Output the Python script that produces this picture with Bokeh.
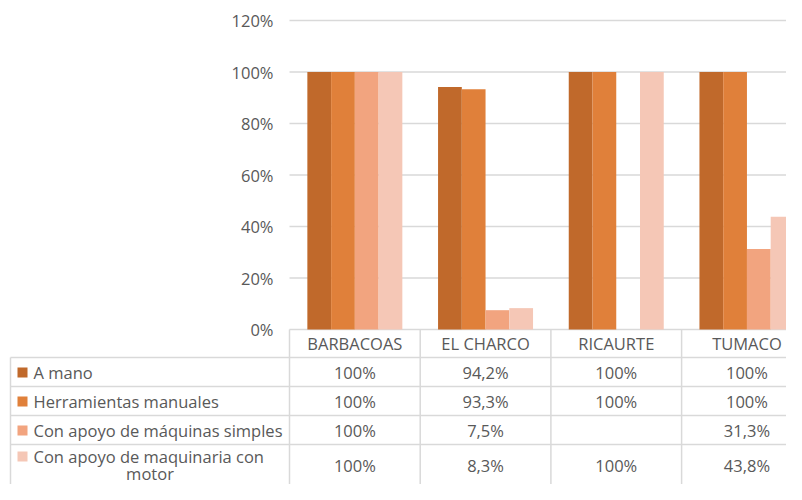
from bokeh.plotting import figure
from bokeh.models import Range1d, ColumnDataSource
from bokeh.core.properties import value
from bokeh.embed import file_html
from bokeh.resources import INLINE
import math

# ---- data ----
categories = ["BARBACOAS", "EL CHARCO", "RICAURTE", "TUMACO"]
series_names = ["A mano", "Herramientas manuales",
                "Con apoyo de máquinas simples", "Con apoyo de maquinaria con motor"]
a_mano = [1.0, 0.942, 1.0, 1.0]
herramientas = [1.0, 0.933, 1.0, 1.0]
maquinas_simples = [1.0, 0.075, None, 0.313]
maquinaria_motor = [1.0, 0.083, 1.0, 0.438]
y_ticks = [0, 0.2, 0.4, 0.6, 0.8, 1.0, 1.2]

series_values = [a_mano, herramientas, maquinas_simples, maquinaria_motor]
colors = ["#C0692B", "#E0803A", "#F2A47F", "#F5C7B6"]

FONT = value("Open Sans")
FS = value("16.5px")
TXT = "#595959"
GRID = "#d9d9d9"

# layout (pixel coordinates of the figure)
W, H = 786, 484
GROUP_PX = 130.7
PLOT_LEFT = 289
ZERO_Y = 329
PCT_PX = 257.5  # pixels per 100%


def fmt(v):
    if v is None:
        return ""
    if abs(v - 1.0) < 1e-9:
        return "100%"
    return ("%.1f%%" % (v * 100)).replace(".", ",")


p = figure(width=W, height=H,
           x_range=Range1d(0, W), y_range=Range1d(H, 0),
           output_backend="svg", toolbar_location=None,
           min_border_left=0, min_border_right=0, min_border_top=0, min_border_bottom=0)
p.axis.visible = False
p.grid.visible = False
p.outline_line_color = None
p.extra_x_ranges = {"grp": Range1d(-PLOT_LEFT / GROUP_PX, (W - PLOT_LEFT) / GROUP_PX)}
p.extra_y_ranges = {"pct": Range1d((ZERO_Y - H) / PCT_PX, ZERO_Y / PCT_PX)}

# gridlines + y tick labels (on percentage scale)
n_cat = len(categories)
right_edge = PLOT_LEFT + n_cat * GROUP_PX
p.segment(x0=[PLOT_LEFT] * len(y_ticks), x1=[right_edge] * len(y_ticks),
          y0=y_ticks, y1=y_ticks, y_range_name="pct", line_color=GRID, line_width=1.5)
p.text(x=[273] * len(y_ticks), y=y_ticks, y_range_name="pct",
       text=["%d%%" % round(t * 100) for t in y_ticks],
       text_align="right", text_baseline="middle",
       text_font=FONT, text_font_size=FS, text_color=TXT)

# bars
n = len(series_values)
bar_w = 0.1817
for j, (vals, col) in enumerate(zip(series_values, colors)):
    off = (j - (n - 1) / 2) * bar_w
    xs = [i + 0.5 + off for i in range(n_cat)]
    tops = [math.nan if v is None else v for v in vals]
    src = ColumnDataSource(dict(x=xs, top=tops))
    p.vbar(x="x", top="top", bottom=0, width=bar_w, source=src,
           x_range_name="grp", y_range_name="pct", fill_color=col, line_color=None)

# ---- data table ----
col_x = [PLOT_LEFT + i * GROUP_PX for i in range(n_cat + 1)]
row_lines = [357, 386, 415, 444]
p.segment(x0=col_x, x1=col_x, y0=[ZERO_Y] * len(col_x), y1=[H + 10] * len(col_x),
          line_color=GRID, line_width=1.5)
p.segment(x0=[10], x1=[10], y0=[row_lines[0]], y1=[H + 10], line_color=GRID, line_width=1.5)
p.segment(x0=[10] * len(row_lines), x1=[col_x[-1]] * len(row_lines),
          y0=row_lines, y1=row_lines, line_color=GRID, line_width=1.5)

centers = [PLOT_LEFT + (i + 0.5) * GROUP_PX for i in range(n_cat)]
p.text(x=centers, y=[343] * n_cat, text=categories,
       text_align="center", text_baseline="middle",
       text_font=FONT, text_font_size=FS, text_color=TXT)

row_y = [372, 401, 430, 465]
label_y = [[372], [401], [430], [456, 473]]
for j, (name, vals, col) in enumerate(zip(series_names, series_values, colors)):
    ry = row_y[j]
    p.text(x=centers, y=[ry] * len(vals), text=[fmt(v) for v in vals],
           text_align="center", text_baseline="middle",
           text_font=FONT, text_font_size=FS, text_color=TXT)
    p.rect(x=[22], y=[label_y[j][0]], width=10, height=10, fill_color=col, line_color=None)
    if len(label_y[j]) == 1:
        p.text(x=[33], y=[label_y[j][0]], text=[name], text_align="left",
               text_baseline="middle", text_font=FONT, text_font_size=FS, text_color=TXT)
    else:
        first, last = name.rsplit(" ", 1)
        p.text(x=[33], y=[label_y[j][0]], text=[first], text_align="left",
               text_baseline="middle", text_font=FONT, text_font_size=FS, text_color=TXT)
        p.text(x=[149.5], y=[label_y[j][1]], text=[last], text_align="center",
               text_baseline="middle", text_font=FONT, text_font_size=FS, text_color=TXT)

open("out.html", "w").write(file_html(p, INLINE))
